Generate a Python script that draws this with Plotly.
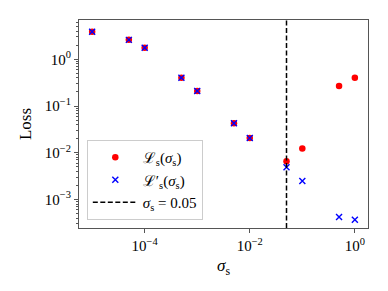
import plotly.graph_objects as go

sigma = [1e-5, 5e-5, 1e-4, 5e-4, 1e-3, 5e-3, 1e-2, 5e-2, 1e-1, 5e-1, 1.0]
loss_s = [3.9, 2.6, 1.77, 0.40, 0.21, 0.043, 0.0206, 0.0066, 0.0124, 0.268, 0.40]
loss_s_prime = [3.9, 2.6, 1.77, 0.40, 0.21, 0.043, 0.0206, 0.0049, 0.00248, 0.00042, 0.00037]
sigma_threshold = 0.05

x_tick_vals = [1e-4, 1e-2, 1.0]
x_tick_text = ["10<sup>−4</sup>", "10<sup>−2</sup>", "10<sup>0</sup>"]
y_tick_vals = [1e-3, 1e-2, 1e-1, 1.0]
y_tick_text = ["10<sup>−3</sup>", "10<sup>−2</sup>", "10<sup>−1</sup>", "10<sup>0</sup>"]

labels = ["ℒ<sub>s</sub>(<i>σ</i><sub>s</sub>)",
          "ℒ′<sub>s</sub>(<i>σ</i><sub>s</sub>)",
          "<i>σ</i><sub>s</sub> = 0.05"]

FONT = "Liberation Serif"

fig = go.Figure()
fig.add_trace(go.Scatter(x=sigma, y=loss_s, mode="markers", name=labels[0],
                         marker=dict(symbol="circle", size=6.5, color="red")))
fig.add_trace(go.Scatter(x=sigma, y=loss_s_prime, mode="markers", name=labels[1],
                         marker=dict(symbol="x-thin", size=6, color="blue",
                                     line=dict(color="blue", width=1.4))))
fig.add_trace(go.Scatter(x=[None], y=[None], mode="lines", name=labels[2],
                         line=dict(color="black", width=1.5, dash="5px,2.5px")))
fig.add_shape(type="line", x0=sigma_threshold, x1=sigma_threshold, xref="x",
              y0=0, y1=1, yref="paper",
              line=dict(color="black", width=1.5, dash="5px,2.5px"))

axis_common = dict(type="log", showgrid=False, zeroline=False, showline=True,
                   linecolor="#555", linewidth=1, mirror=True, ticks="outside",
                   tickcolor="#555", ticklen=4, automargin=False,
                   tickfont=dict(family=FONT, size=15, color="black"))

fig.update_xaxes(**axis_common, range=[-5.25, 0.25],
                 tickmode="array", tickvals=x_tick_vals, ticktext=x_tick_text,
                 title=dict(text="<i>σ</i><sub>s</sub>", font=dict(family=FONT, size=17, color="black"),
                            standoff=6))
fig.update_yaxes(**axis_common, range=[-3.61, 0.84],
                 tickmode="array", tickvals=y_tick_vals, ticktext=y_tick_text,
                 minor=dict(ticks="outside", ticklen=2, dtick="D1", tickcolor="#555"),
                 title=dict(text="Loss", font=dict(family=FONT, size=17, color="black"),
                            standoff=8))

fig.update_layout(
    width=388, height=291,
    margin=dict(l=71, r=28, t=12, b=71),
    paper_bgcolor="white", plot_bgcolor="white",
    showlegend=True,
    legend=dict(x=0.027, y=0.038, xanchor="left", yanchor="bottom",
                bgcolor="rgba(255,255,255,0.8)", bordercolor="#ccc", borderwidth=1,
                font=dict(family=FONT, size=15, color="black"),
                itemwidth=45, tracegroupgap=0),
)

fig.write_html("out.html")
